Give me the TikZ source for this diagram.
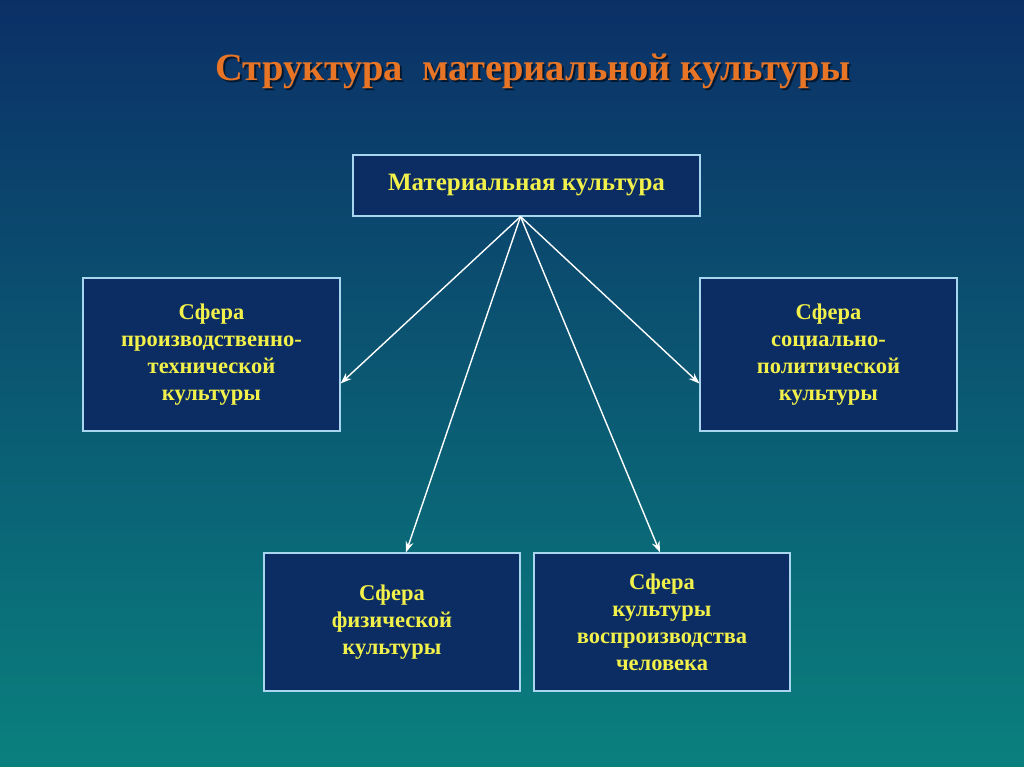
\documentclass[tikz,border=0pt]{standalone}
\usepackage{fontspec}
\setmainfont{Liberation Serif}
\usetikzlibrary{arrows.meta,positioning}

\definecolor{bgtop}{HTML}{0B3067}
\definecolor{bgbot}{HTML}{0A807E}
\definecolor{boxfill}{HTML}{0B2D64}
\definecolor{boxline}{HTML}{A8D6EE}
\definecolor{txtyellow}{HTML}{F2F04A}
\definecolor{titleorange}{HTML}{E87526}

\begin{document}
\begin{tikzpicture}[x=1pt,y=-1pt,
        box/.style={draw=boxline,line width=1.2pt,fill=boxfill,
            minimum width=257pt,minimum height=153pt,inner sep=0pt,
            align=center,text=txtyellow,
            font=\fontsize{22.5}{27}\selectfont\bfseries},
        arr/.style={draw=white,line width=1.4pt,
            -{Stealth[length=11pt,width=8pt]}}]
\useasboundingbox (0,0) rectangle (1024,767);
\shade[top color=bgtop,bottom color=bgbot] (0,0) rectangle (1024,767);

% title
\node[text=black,opacity=0.55,font=\fontsize{38.5}{42}\selectfont\bfseries]
    (titleshadow) at (535,73) {Структура\ \ материальной культуры};
\node[text=titleorange,font=\fontsize{38.5}{42}\selectfont\bfseries]
    (title) at (533,71) {Структура\ \ материальной культуры};

% boxes
\node[box,minimum width=347pt,minimum height=61pt,
    font=\fontsize{25}{27}\selectfont\bfseries] (mat) at (526.5,185.5)
    {Материальная культура};
\node[box] (prod) at (211.5,354.5)
    {Сфера\\производственно-\\технической\\культуры};
\node[box] (soc) at (828.5,354.5)
    {Сфера\\социально-\\политической\\культуры};
\node[box,minimum width=256pt,minimum height=138pt] (fiz) at (392,622)
    {Сфера\\физической\\культуры};
\node[box,minimum width=256pt,minimum height=138pt] (vosp) at (662,622)
    {Сфера\\культуры\\воспроизводства\\человека};

% arrows
\coordinate (src) at ([xshift=-6pt]mat.south);
\draw[arr] (src) -- ([yshift=-29pt]prod.east);
\draw[arr] (src) -- ([yshift=-29pt]soc.west);
\draw[arr] (src) -- ([xshift=14pt]fiz.north);
\draw[arr] (src) -- ([xshift=-2pt]vosp.north);

\end{tikzpicture}
\end{document}
